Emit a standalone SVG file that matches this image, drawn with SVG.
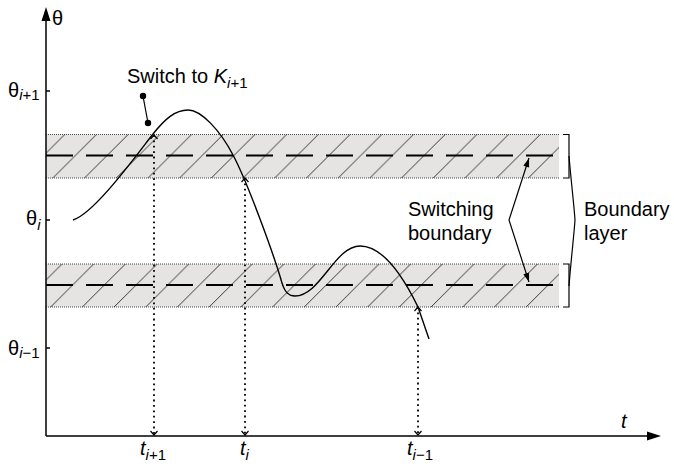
<svg xmlns="http://www.w3.org/2000/svg" width="674" height="468" viewBox="0 0 674 468">
<style>
text{font-family:"Liberation Sans",Arial,sans-serif;fill:#000}
.lbl{font-size:20px}
.sub{font-size:15px}
.it{font-style:italic}
.axis{stroke:#000;stroke-width:1.5;fill:none}
.band{fill:#e6e3e3}
.edge{stroke:#333;stroke-width:0.9;stroke-dasharray:1 1;fill:none}
.mid{stroke:#000;stroke-width:1.8;stroke-dasharray:27 13;fill:none}
.drop{stroke:#000;stroke-width:1.8;stroke-dasharray:1.8 3.6;fill:none;marker-start:url(#chev);marker-end:url(#chev)}
.thin{stroke:#000;stroke-width:1.2;fill:none}
</style>
<defs>
<pattern id="hatch" patternUnits="userSpaceOnUse" x="9" y="0" width="31.7" height="31.7">
<path d="M0,31.7 L31.7,0 M-5,5 L5,-5 M26.7,36.7 L36.7,26.7" stroke="#222" stroke-width="0.9"/>
</pattern>
<marker id="chev" viewBox="-6 -6 12 12" markerWidth="12" markerHeight="12" markerUnits="userSpaceOnUse" orient="auto-start-reverse">
<path d="M-4,-3.5 L0,0 L-4,3.5" fill="none" stroke="#000" stroke-width="1.2"/>
</marker>
<marker id="arr" viewBox="-10 -5 12 10" markerWidth="12" markerHeight="10" markerUnits="userSpaceOnUse" orient="auto-start-reverse">
<path d="M-9,-3 L0,0 L-9,3 z" fill="#000"/>
</marker>
</defs>

<g id="band-upper">
<rect class="band" x="46" y="134.5" width="513" height="43.5"/>
<rect x="46" y="134.5" width="513" height="43.5" fill="url(#hatch)"/>
<line class="mid" x1="46" y1="155.5" x2="553" y2="155.5"/>
<line class="edge" x1="46" y1="134.5" x2="559" y2="134.5"/>
<line class="edge" x1="46" y1="178" x2="559" y2="178"/>
</g>
<g id="band-lower">
<rect class="band" x="46" y="264" width="513" height="43"/>
<rect x="46" y="264" width="513" height="43" fill="url(#hatch)"/>
<line class="mid" x1="46" y1="285" x2="553" y2="285"/>
<line class="edge" x1="46" y1="264" x2="559" y2="264"/>
<line class="edge" x1="46" y1="307" x2="559" y2="307"/>
</g>

<g id="axes">
<line class="axis" x1="46" y1="436" x2="46" y2="18"/>
<path d="M46,7 L50.5,21 L41.5,21 z" fill="#000"/>
<line class="axis" x1="46" y1="436" x2="650" y2="436"/>
<path d="M661,436 L647,431.5 L647,440.5 z" fill="#000"/>
<line class="axis" x1="46" y1="91" x2="50" y2="91"/>
<line class="axis" x1="46" y1="220" x2="50" y2="220"/>
<line class="axis" x1="46" y1="348" x2="50" y2="348"/>
<text class="lbl" x="52" y="25">θ</text>
<text class="lbl it" x="621" y="428">t</text>
</g>

<g id="y-labels">
<text class="lbl" x="8" y="97">θ<tspan class="sub" dy="3"><tspan class="it">i</tspan>+1</tspan></text>
<text class="lbl" x="26" y="225">θ<tspan class="sub it" dy="5">i</tspan></text>
<text class="lbl" x="8" y="355">θ<tspan class="sub" dy="3"><tspan class="it">i</tspan>−1</tspan></text>
</g>

<g id="t-labels">
<text class="lbl it" x="140" y="455">t<tspan class="sub" dy="5" font-style="normal"><tspan class="it">i</tspan>+1</tspan></text>
<text class="lbl it" x="240" y="455">t<tspan class="sub" dy="5">i</tspan></text>
<text class="lbl it" x="407" y="455">t<tspan class="sub" dy="5" font-style="normal"><tspan class="it">i</tspan>−1</tspan></text>
</g>

<g id="connectors">
<line class="drop" x1="154" y1="135" x2="154" y2="435"/>
<line class="drop" x1="245" y1="178" x2="245" y2="435"/>
<line class="drop" x1="418" y1="307" x2="418" y2="435"/>
<path class="thin" d="M529,158 L509,220 L529,282" marker-start="url(#arr)" marker-end="url(#arr)"/>
<line class="thin" x1="143" y1="96" x2="148" y2="123"/>
</g>

<g id="trajectory">
<path d="M73,220 C95,213 138,153 153,134 C165,119 175,110 188,110 C201,110 220,130 233,155 C247,181 274,255 282,283 C285,293 289,296 295,296 C320,296 335,246 360,246 C380,246 400,270 418,307 L429,339" fill="none" stroke="#000" stroke-width="1.4"/>
</g>

<g id="switch-label">
<circle cx="143" cy="96" r="3.2" fill="#000"/>
<circle cx="148" cy="123" r="3.2" fill="#000"/>
<text class="lbl" x="127" y="83">Switch to <tspan class="it">K</tspan><tspan class="sub" dy="5"><tspan class="it">i</tspan>+1</tspan></text>
</g>

<g id="switching-boundary">
<text class="lbl" x="408" y="216">Switching</text>
<text class="lbl" x="408" y="240">boundary</text>
</g>

<g id="boundary-layer">
<path class="thin" d="M563,134.5 H569 V178 H563"/>
<path class="thin" d="M563,264 H569 V307 H563"/>
<path class="thin" d="M569,156 C571,180 574,205 575,220 C574,235 571,260 569,286"/>
<text class="lbl" x="584" y="216">Boundary</text>
<text class="lbl" x="584" y="240">layer</text>
</g>
</svg>
